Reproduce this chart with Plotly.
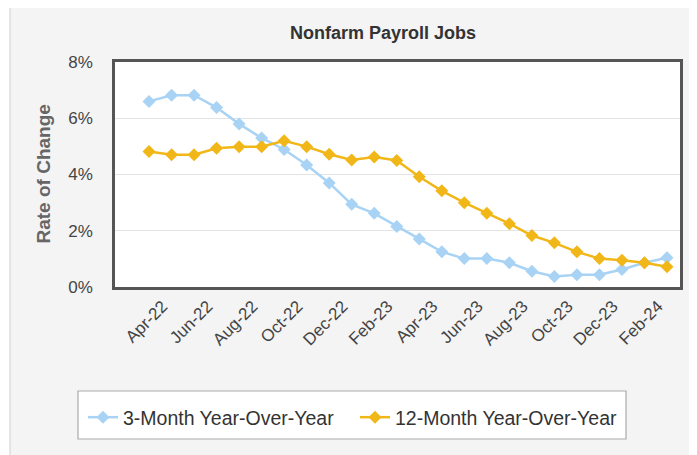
import plotly.graph_objects as go

months = ["Mar-22", "Apr-22", "May-22", "Jun-22", "Jul-22", "Aug-22", "Sep-22", "Oct-22",
          "Nov-22", "Dec-22", "Jan-23", "Feb-23", "Mar-23", "Apr-23", "May-23", "Jun-23",
          "Jul-23", "Aug-23", "Sep-23", "Oct-23", "Nov-23", "Dec-23", "Jan-24", "Feb-24"]
three_month = [6.6, 6.82, 6.82, 6.38, 5.8, 5.3, 4.89, 4.34, 3.7, 2.94, 2.62, 2.15,
               1.71, 1.25, 1.01, 1.01, 0.86, 0.56, 0.37, 0.44, 0.44, 0.62, 0.86, 1.04]
twelve_month = [4.82, 4.7, 4.7, 4.93, 4.99, 4.99, 5.2, 4.99, 4.72, 4.52, 4.62, 4.5,
                3.92, 3.42, 3.0, 2.62, 2.25, 1.83, 1.57, 1.25, 1.01, 0.95, 0.86, 0.72]
tick_labels = months[1::2]
y_ticks = [0, 2, 4, 6, 8]
y_tick_text = ["0%", "2%", "4%", "6%", "8%"]

OFF = 8  # page body margin
W, H = 689, 447
L, T = 115 - OFF, 62 - OFF
R = W - (680 - OFF)
B = H - (287 - OFF)
pw, ph = W - L - R, H - T - B

def px_x(x):  # reference page x -> paper
    return (x - OFF - L) / pw

def px_y(y):  # reference page y -> paper
    return (H - B - (y - OFF)) / ph

FONT = "Liberation Sans, Arial, sans-serif"
BLUE = "#a8d3f4"
GOLD = "#f1b718"

fig = go.Figure()
fig.add_trace(go.Scatter(
    x=months, y=three_month, name="3-Month Year-Over-Year", mode="lines+markers",
    line=dict(color=BLUE, width=2.5), marker=dict(symbol="diamond", size=10, color=BLUE)))
fig.add_trace(go.Scatter(
    x=months, y=twelve_month, name="12-Month Year-Over-Year", mode="lines+markers",
    line=dict(color=GOLD, width=2.5), marker=dict(symbol="diamond", size=10, color=GOLD)))

shapes = [
    dict(type="rect", xref="paper", yref="paper", layer="below",
         x0=px_x(10), x1=px_x(691), y0=px_y(470), y1=px_y(3),
         fillcolor="#f4f4f4", line=dict(color="#cfcfcf", width=1)),
    dict(type="rect", xref="paper", yref="paper", layer="below",
         x0=0, x1=1, y0=0, y1=1, fillcolor="white", line=dict(width=0)),
    dict(type="rect", xref="paper", yref="paper", layer="below",
         x0=px_x(78), x1=px_x(626), y0=px_y(439), y1=px_y(391),
         fillcolor="white", line=dict(color="#a9a9a9", width=1.2)),
]

fig.update_layout(
    width=W, height=H,
    margin=dict(l=L, r=R, t=T, b=B, autoexpand=False),
    paper_bgcolor="white", plot_bgcolor="white",
    font=dict(family=FONT, color="#444"),
    title=dict(text="<b>Nonfarm Payroll Jobs</b>", x=px_x(383), xref="paper", xanchor="center",
               y=1 - (33 - OFF) / H, yref="container", yanchor="middle",
               font=dict(size=18, color="#333", family=FONT)),
    shapes=shapes,
    annotations=[dict(text="<b>Rate of Change</b>", x=px_x(43), y=0.5, xref="paper", yref="paper",
                      xanchor="center", yanchor="middle",
                      textangle=-90, showarrow=False, font=dict(size=19, color="#666", family=FONT))],
    showlegend=True,
    legend=dict(orientation="h", x=px_x(83), y=px_y(398), xanchor="left", yanchor="top",
                bgcolor="rgba(0,0,0,0)", borderwidth=0, font=dict(size=19.5, color="#333"),
                entrywidth=227, itemwidth=30),
    xaxis=dict(type="category", range=[-34 / 22.5, 23 + 13 / 22.5], tickmode="array",
               tickvals=tick_labels, ticktext=tick_labels, tickangle=-45, ticklabelshift=-9,
               tickfont=dict(size=17, color="#444"), showgrid=False, ticks="",
               showline=True, linecolor="#555", linewidth=2.5, mirror=True, zeroline=False),
    yaxis=dict(range=[0, 8], tickmode="array", tickvals=y_ticks, ticktext=y_tick_text,
               tickfont=dict(size=17, color="#444"), showgrid=True, gridcolor="#e3e3e3",
               gridwidth=1, ticks="", ticklabelstandoff=16,
               showline=True, linecolor="#555", linewidth=2.5, mirror=True, zeroline=False),
)

fig.write_html("out.html")
